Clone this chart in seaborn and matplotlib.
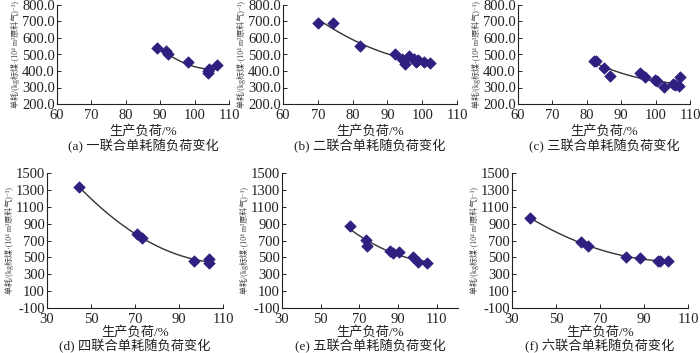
import numpy as np
import pandas as pd
import matplotlib
matplotlib.use("Agg")
import matplotlib.pyplot as plt
import seaborn as sns
from matplotlib.ticker import FormatStrFormatter

sns.set_theme(style="white")
plt.rcParams['font.family'] = ['Liberation Serif', 'Noto Sans CJK SC', 'DejaVu Sans']
plt.rcParams['axes.unicode_minus'] = False

# ---- data ----
a_x = [89.0, 91.8, 92.2, 98.0, 103.8, 104.0, 104.3, 106.5]
a_y = [540, 520, 505, 452, 388, 398, 410, 435]

b_x = [70.1, 74.3, 82.2, 92.3, 94.1, 95.1, 96.1, 97.7, 98.1, 98.7, 100.4, 102.3]
b_y = [693, 693, 549, 502, 474, 444, 488, 474, 456, 466, 454, 448]

c_x = [82.0, 82.8, 85.0, 86.7, 95.4, 96.8, 99.9, 100.3, 102.4, 105.1, 105.6, 106.7, 107.1]
c_y = [462, 458, 418, 371, 388, 361, 347, 339, 305, 321, 315, 307, 361]

d_x = [44.5, 71.1, 73.4, 97.0, 103.5, 103.5]
d_y = [1335, 776, 724, 452, 480, 430]

e_x = [65.3, 73.6, 74.0, 86.0, 87.4, 90.3, 97.8, 100.5, 105.2]
e_y = [866, 709, 630, 571, 547, 567, 504, 448, 436]

f_x = [38.3, 61.4, 64.7, 81.8, 88.3, 96.2, 97.4, 100.8]
f_y = [965, 681, 630, 508, 488, 457, 457, 457]

captions = ["(a) 一联合单耗随负荷变化", "(b) 二联合单耗随负荷变化", "(c) 三联合单耗随负荷变化",
            "(d) 四联合单耗随负荷变化", "(e) 五联合单耗随负荷变化", "(f) 六联合单耗随负荷变化"]
xlabel = "生产负荷/%"
ylabel = "单耗/(kg标煤·(10⁴ m³原料气)⁻¹)"

top_xticks = [60, 70, 80, 90, 100, 110]
top_yticks = [200, 300, 400, 500, 600, 700, 800]
bot_xticks = [30, 50, 70, 90, 110]
bot_yticks = [-100, 100, 300, 500, 700, 900, 1100, 1300, 1500]

series = [(a_x, a_y), (b_x, b_y), (c_x, c_y), (d_x, d_y), (e_x, e_y), (f_x, f_y)]

W, H = 700, 353
fig = plt.figure(figsize=(7.0, 3.53), dpi=100)

# axes boxes in pixels: left, right, top, bottom
boxes = [(57, 229, 5, 104), (283, 457, 5, 104), (518, 690, 5, 104),
         (47, 223, 173, 308), (282, 458, 173, 308), (512, 688, 173, 308)]
xlims = [(60, 110), (60, 110), (60, 110), (30, 110), (30, 121), (30, 110)]

marker_color = "#2f1f80"

for i, ((l, r, t, b), (xs, ys)) in enumerate(zip(boxes, series)):
    ax = fig.add_axes([l / W, 1 - b / H, (r - l) / W, (b - t) / H])
    df = pd.DataFrame({"x": xs, "y": ys})
    sns.regplot(data=df, x="x", y="y", order=2, ci=None, ax=ax, marker="D",
                scatter_kws=dict(s=34, color=marker_color, edgecolor=marker_color,
                                 linewidths=0.5, alpha=1, zorder=3),
                line_kws=dict(color="#333333", lw=1.0, zorder=2))
    top = i < 3
    if top:
        ax.set_xticks(top_xticks)
        ax.set_yticks(top_yticks)
        ax.set_ylim(200, 800)
        ax.yaxis.set_major_formatter(FormatStrFormatter("%.1f"))
    else:
        ax.set_xticks(bot_xticks)
        ax.set_yticks(bot_yticks)
        ax.set_ylim(-100, 1500)
    ax.set_xlim(*xlims[i])
    for s in ["top", "right"]:
        ax.spines[s].set_visible(False)
    for s in ["left", "bottom"]:
        ax.spines[s].set_color("#222222")
        ax.spines[s].set_linewidth(0.8)
    ax.tick_params(direction="in", length=3, width=0.7, labelsize=10.5, pad=1.5,
                   colors="#222222", left=True, bottom=True)
    ax.tick_params(axis="x", pad=3.5)
    ax.set_xlabel("")
    ax.set_ylabel(ylabel, fontsize=5.8, color="#444444", labelpad=1.5)
    cx = (l + r) / 2 / W
    if top:
        fig.text(cx, 1 - 131 / H, xlabel, ha="center", va="center", fontsize=9.5, color="#222222")
        fig.text(cx, 1 - 146.5 / H, captions[i], ha="center", va="center", fontsize=9.5, color="#222222")
    else:
        fig.text(cx, 1 - 332 / H, xlabel, ha="center", va="center", fontsize=9.5, color="#222222")
        fig.text(cx, 1 - 346.5 / H, captions[i], ha="center", va="center", fontsize=9.5, color="#222222")

fig.savefig("out.png", dpi=100, facecolor="white")
